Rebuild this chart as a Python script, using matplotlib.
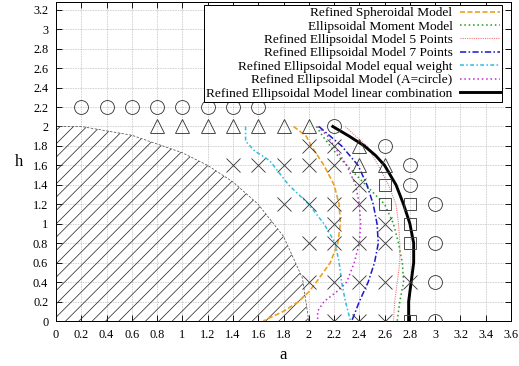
import numpy as np
import matplotlib
matplotlib.use('Agg')
import matplotlib.pyplot as plt
from matplotlib.ticker import FixedLocator, FuncFormatter

plt.rcParams['font.family'] = ['Liberation Serif', 'DejaVu Serif']
plt.rcParams['hatch.linewidth'] = 0.7
plt.rcParams['hatch.color'] = '#333333'

# ---- data ----
x_ticks = [0, 0.2, 0.4, 0.6, 0.8, 1, 1.2, 1.4, 1.6, 1.8, 2, 2.2, 2.4, 2.6, 2.8, 3, 3.2, 3.4, 3.6]
y_ticks = [0, 0.2, 0.4, 0.6, 0.8, 1, 1.2, 1.4, 1.6, 1.8, 2, 2.2, 2.4, 2.6, 2.8, 3, 3.2]

# hatched (excluded) region boundary
reg_a = [0, 0.2, 0.6, 1.0, 1.2, 1.4, 1.6, 1.8, 1.95, 2.0]
reg_h = [2.0, 2.0, 1.91, 1.73, 1.6, 1.43, 1.2, 0.87, 0.44, 0.0]

# sample points
circ_a = [0.2, 0.4, 0.6, 0.8, 1.0, 1.2, 1.4, 1.6, 2.2, 2.6, 2.8, 2.8, 3.0, 3.0, 3.0, 3.0]
circ_h = [2.2, 2.2, 2.2, 2.2, 2.2, 2.2, 2.2, 2.2, 2.0, 1.8, 1.6, 1.4, 1.2, 0.8, 0.4, 0.0]
tri_a = [0.8, 1.0, 1.2, 1.4, 1.6, 1.8, 2.0, 2.4, 2.4, 2.6]
tri_h = [2.0, 2.0, 2.0, 2.0, 2.0, 2.0, 2.0, 1.8, 1.6, 1.6]
sq_a = [2.6, 2.6, 2.8, 2.8, 2.8, 2.8]
sq_h = [1.4, 1.2, 1.2, 1.0, 0.8, 0.0]
x_a = [2.0, 2.2, 1.4, 1.6, 1.8, 2.0, 2.2, 2.4, 1.8, 2.0, 2.2, 2.4, 2.2, 2.6,
       2.0, 2.2, 2.4, 2.6, 2.0, 2.2, 2.4, 2.6, 2.8, 2.2, 2.4, 2.6]
x_h = [1.8, 1.8, 1.6, 1.6, 1.6, 1.6, 1.6, 1.4, 1.2, 1.2, 1.2, 1.2, 1.0, 1.0,
       0.8, 0.8, 0.8, 0.8, 0.4, 0.4, 0.4, 0.4, 0.4, 0.0, 0.0, 0.0]

# model curves (a as function of h)
sph_h = [2.0, 1.9, 1.8, 1.6, 1.4, 1.2, 1.0, 0.8, 0.6, 0.4, 0.3, 0.2, 0.1, 0.0]
sph_a = [1.88, 1.98, 2.02, 2.12, 2.2, 2.24, 2.25, 2.23, 2.17, 2.06, 2.0, 1.92, 1.8, 1.64]
mom_h = [2.0, 1.9, 1.8, 1.7, 1.6, 1.4, 1.2, 1.0, 0.8, 0.6, 0.4, 0.2, 0.0]
mom_a = [2.06, 2.11, 2.17, 2.23, 2.3, 2.45, 2.6, 2.67, 2.71, 2.74, 2.75, 2.72, 2.7]
p5_h = [2.0, 1.9, 1.8, 1.6, 1.4, 1.2, 1.0, 0.8, 0.6, 0.4, 0.2, 0.0]
p5_a = [2.29, 2.37, 2.46, 2.55, 2.63, 2.69, 2.71, 2.72, 2.72, 2.7, 2.68, 2.67]
p7_h = [2.0, 1.9, 1.8, 1.6, 1.4, 1.2, 1.0, 0.8, 0.6, 0.4, 0.2, 0.0]
p7_a = [2.08, 2.17, 2.26, 2.39, 2.46, 2.51, 2.54, 2.55, 2.52, 2.47, 2.4, 2.34]
eqw_h = [2.0, 1.85, 1.75, 1.65, 1.4, 1.2, 1.0, 0.8, 0.6, 0.4, 0.2, 0.0]
eqw_a = [1.5, 1.5, 1.57, 1.69, 1.84, 2.0, 2.12, 2.21, 2.24, 2.26, 2.29, 2.33]
circA_h = [2.0, 1.9, 1.8, 1.6, 1.4, 1.2, 1.0, 0.8, 0.6, 0.4, 0.3, 0.2, 0.1, 0.0]
circA_a = [2.07, 2.15, 2.2, 2.3, 2.37, 2.4, 2.41, 2.4, 2.36, 2.3, 2.22, 2.12, 2.07, 2.07]
lin_h = [2.0, 1.9, 1.8, 1.7, 1.6, 1.4, 1.2, 1.0, 0.8, 0.6, 0.4, 0.2, 0.0]
lin_a = [2.19, 2.32, 2.44, 2.53, 2.6, 2.69, 2.75, 2.8, 2.83, 2.83, 2.81, 2.79, 2.79]

DPI = 80
fig = plt.figure(figsize=(519 / DPI, 366 / DPI), dpi=DPI)
ax = fig.add_axes([56 / 519, 45 / 366, 455 / 519, 319 / 366])

ax.fill(reg_a + [0], reg_h + [0], facecolor='none', edgecolor='#333333', lw=0, hatch='//', zorder=1)
ax.plot(reg_a, reg_h, color='#555555', lw=0.7, ls=(0, (3, 2)), zorder=2)

mk = dict(ls='none', mfc='none', mec='#3a3a3a', mew=0.8, zorder=3)
ax.plot(circ_a, circ_h, marker='o', ms=12.5, **mk)
ax.plot(tri_a, tri_h, marker='^', ms=12.5, **mk)
ax.plot(sq_a, sq_h, marker='s', ms=11.5, **mk)
ax.plot(x_a, x_h, marker='x', ms=12.5, **mk)

lines = []
lines += ax.plot(sph_a, sph_h, color='#f0a020', lw=1.5, ls=(0, (3, 1.5)), label='Refined Spheroidal Model')
lines += ax.plot(mom_a, mom_h, color='#20a020', lw=1.4, ls=(0, (1, 1.8)), label='Ellipsoidal Moment Model')
lines += ax.plot(p5_a, p5_h, color='#f07878', lw=1.0, ls=(0, (1, 1)), label='Refined Ellipsoidal Model 5 Points')
lines += ax.plot(p7_a, p7_h, color='#1a1ad0', lw=1.4, ls=(0, (4, 1.5, 1, 1.5)), label='Refined Ellipsoidal Model 7 Points')
lines += ax.plot(eqw_a, eqw_h, color='#30c0e0', lw=1.4, ls=(0, (2.5, 1.5, 1, 1.5)), label='Refined Ellipsoidal Model equal weight')
lines += ax.plot(circA_a, circA_h, color='#c030d0', lw=1.4, ls=(0, (1, 1.8)), label='Refined Ellipsoidal Model (A=circle)')
lines += ax.plot(lin_a, lin_h, color='black', lw=2.6, label='Refined Ellipsoidal Model linear combination')

ax.set_xlim(0, 3.6)
ax.set_ylim(0, 3.28)
ax.xaxis.set_major_locator(FixedLocator(x_ticks))
ax.yaxis.set_major_locator(FixedLocator(y_ticks))
fmt = FuncFormatter(lambda v, p: '%g' % v)
ax.xaxis.set_major_formatter(fmt)
ax.yaxis.set_major_formatter(fmt)
ax.tick_params(direction='in', top=True, right=True, length=5, width=0.8, labelsize=11, pad=7)
ax.grid(True, color='#9a9a9a', lw=0.6, ls=(0, (1, 1.5)))
ax.set_axisbelow(True)
for s in ax.spines.values():
    s.set_linewidth(0.9)

ax.set_xlabel('a', fontsize=15, labelpad=6)
ax.set_ylabel('h', fontsize=15, labelpad=12, rotation=0, va='center')

leg = ax.legend(handles=lines, loc='upper right', bbox_to_anchor=(0.980, 0.991), borderaxespad=0,
                markerfirst=False, fontsize=12, fancybox=False, framealpha=1, edgecolor='black',
                handlelength=3.0, labelspacing=0.08, borderpad=0.15, handletextpad=0.55)
leg.get_frame().set_linewidth(0.9)

fig.savefig('out.png', dpi=DPI)
